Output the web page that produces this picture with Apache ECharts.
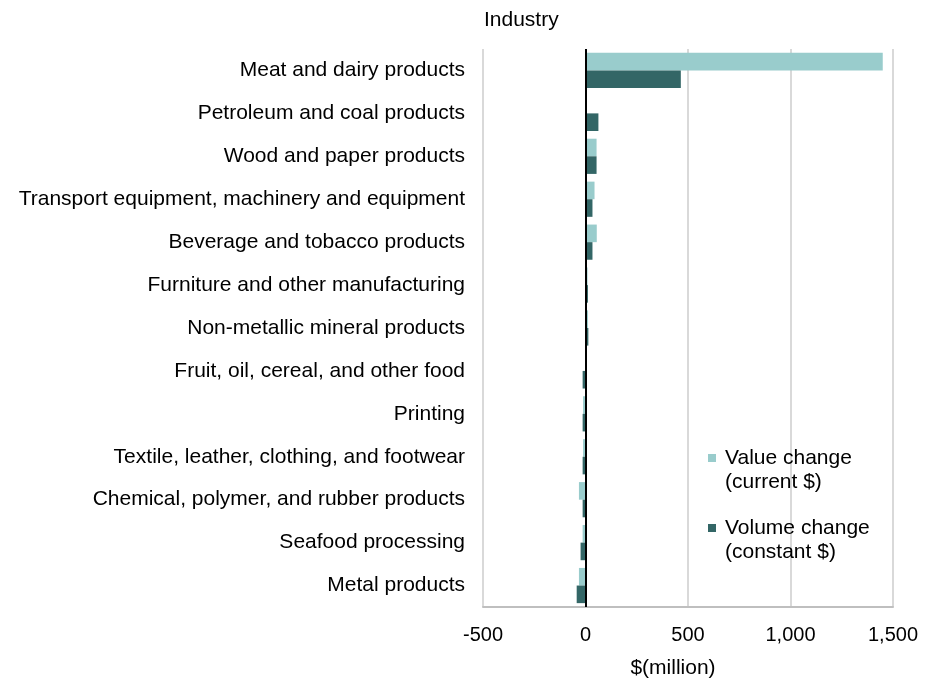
<!DOCTYPE html>
<html>
<head>
<meta charset="utf-8">
<script src="https://cdn.jsdelivr.net/npm/echarts@6/dist/echarts.min.js"></script>
<style>
  html, body { margin: 0; padding: 0; background: #fff; }
  #chart { width: 925px; height: 686px; }
</style>
</head>
<body>
<div id="chart"></div>
<script>
const categories = [
  'Meat and dairy products',
  'Petroleum and coal products',
  'Wood and paper products',
  'Transport equipment, machinery and equipment',
  'Beverage and tobacco products',
  'Furniture and other manufacturing',
  'Non-metallic mineral products',
  'Fruit, oil, cereal, and other food',
  'Printing',
  'Textile, leather, clothing, and footwear',
  'Chemical, polymer, and rubber products',
  'Seafood processing',
  'Metal products'
];
const valueChange = [1450, 6, 54, 44, 55, 10, 12, -2, -12, -12, -32, -14, -32];
const volumeChange = [465, 63, 54, 34, 34, 12, 14, -14, -14, -14, -14, -24, -43];
const seriesNames = ['Value change\n(current $)', 'Volume change\n(constant $)'];
const xMin = -500, xMax = 1500, xStep = 500;
const tickLabels = ['-500', '0', '500', '1,000', '1,500'];

const FONT = '"Liberation Sans", Arial, sans-serif';
const chart = echarts.init(document.getElementById('chart'), null, { renderer: 'canvas' });

chart.setOption({
  animation: false,
  backgroundColor: '#fff',
  title: {
    text: 'Industry',
    left: 484,
    top: 10,
    padding: 0,
    textStyle: { fontFamily: FONT, fontSize: 21, fontWeight: 'normal', color: '#000' }
  },
  legend: {
    orient: 'vertical',
    left: 708,
    top: 446,
    padding: 0,
    itemGap: 22,
    itemWidth: 8,
    itemHeight: 48,
    icon: 'path://M0,8H8V16H0Z M0,0H0.001V0.001H0Z M0,48H0.001V48.001H0Z',
    textStyle: { fontFamily: FONT, fontSize: 21, color: '#000', lineHeight: 24, padding: [0, 0, 0, 4] },
    data: seriesNames
  },
  grid: { left: 483, right: 32, top: 49, bottom: 79, containLabel: false },
  xAxis: {
    type: 'value',
    min: xMin,
    max: xMax,
    interval: xStep,
    name: '$(million)',
    nameLocation: 'middle',
    nameGap: 51,
    nameTextStyle: { fontFamily: FONT, fontSize: 21, color: '#000', padding: [0, 30, 0, 0] },
    axisLine: { show: true, lineStyle: { color: '#BFBFBF', width: 2 } },
    axisTick: { show: false },
    axisLabel: {
      fontFamily: FONT, fontSize: 20, color: '#000', margin: 18,
      formatter: v => tickLabels[Math.round((v - xMin) / xStep)]
    },
    splitLine: { show: true, lineStyle: { color: '#D9D9D9', width: 2 } }
  },
  yAxis: {
    type: 'category',
    data: categories,
    inverse: true,
    axisLine: { show: false },
    axisTick: { show: false },
    splitLine: { show: false },
    axisLabel: { fontFamily: FONT, fontSize: 21, color: '#000', margin: 18, padding: [4, 0, 0, 0] }
  },
  series: [
    {
      name: seriesNames[0],
      type: 'bar',
      data: valueChange,
      itemStyle: { color: '#99CCCC' },
      barGap: '0%',
      barCategoryGap: '18%',
      markLine: {
        silent: true,
        symbol: 'none',
        label: { show: false },
        lineStyle: { color: '#000', width: 2, type: 'solid' },
        data: [{ xAxis: 0 }]
      }
    },
    {
      name: seriesNames[1],
      type: 'bar',
      data: volumeChange,
      itemStyle: { color: '#336666' },
      barGap: '0%',
      barCategoryGap: '18%'
    }
  ]
});
</script>
</body>
</html>
